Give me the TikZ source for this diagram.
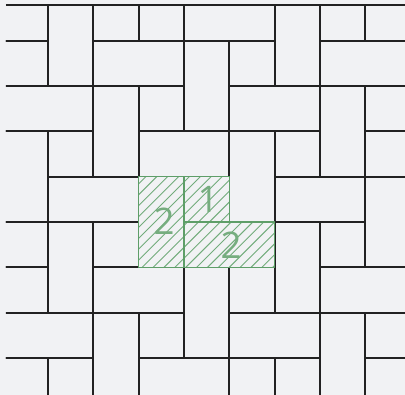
\documentclass[tikz,border=0pt]{standalone}
\usepackage{fontspec}
\setmainfont{Open Sans}
\definecolor{paper}{HTML}{F1F2F4}
\definecolor{ink}{HTML}{222222}
\definecolor{leaf}{HTML}{5E9E68}
\definecolor{leaflight}{HTML}{72AC7B}
\tikzset{
  tile/.style={draw=ink, line width=1.2pt},
  zone/.style={draw=leaf, line width=0.9pt},
  hatch/.style={draw=leaflight, line width=0.6pt},
  num/.style={text=leaf!85, font=\fontsize{23}{23}\selectfont, inner sep=0pt}
}
\begin{document}
\begin{tikzpicture}[line join=round]
  \fill[paper] (-0.059,-8.817) rectangle (8.876,-0.103);
  \useasboundingbox (-0.059,-8.817) rectangle (8.876,-0.103);

  % tiling: vertical domino, square, horizontal domino, repeated
  \begin{scope}
    \clip (0.07,-9) rectangle (9,-0.213);
    \foreach \a in {-4,...,4}{
      \foreach \b in {-4,...,4}{
        \pgfmathtruncatemacro{\c}{3+\a+2*\b}
        \pgfmathtruncatemacro{\y}{-(4+2*\a-\b)}
        \draw[tile] (\c,\y) rectangle ++(1,-2)
          (\c+1,\y) rectangle ++(1,-1)
          (\c+1,\y-1) rectangle ++(2,-1);
      }
    }
  \end{scope}
  \draw[tile] (0.07,-0.213) -- (8.876,-0.213);

  % marked piece
  \fill[paper] (3,-4) rectangle (4,-6) (4,-4) rectangle (5,-5) (4,-5) rectangle (6,-6);
  \begin{scope}
    \clip (3,-4) rectangle (4,-6) (4,-4) rectangle (5,-5) (4,-5) rectangle (6,-6);
    \foreach \d in {7.16,7.40,...,12.2}
      \draw[hatch] (2,2-\d) -- (7,7-\d);
  \end{scope}
  \draw[zone] (3,-4) rectangle (4,-6) (4,-4) rectangle (5,-5) (4,-5) rectangle (6,-6);

  \node[num] (vert) at (3.56,-4.98) {2};
  \node[num] (unit) at (4.53,-4.51) {1};
  \node[num] (horz) at (5.04,-5.51) {2};
\end{tikzpicture}
\end{document}
